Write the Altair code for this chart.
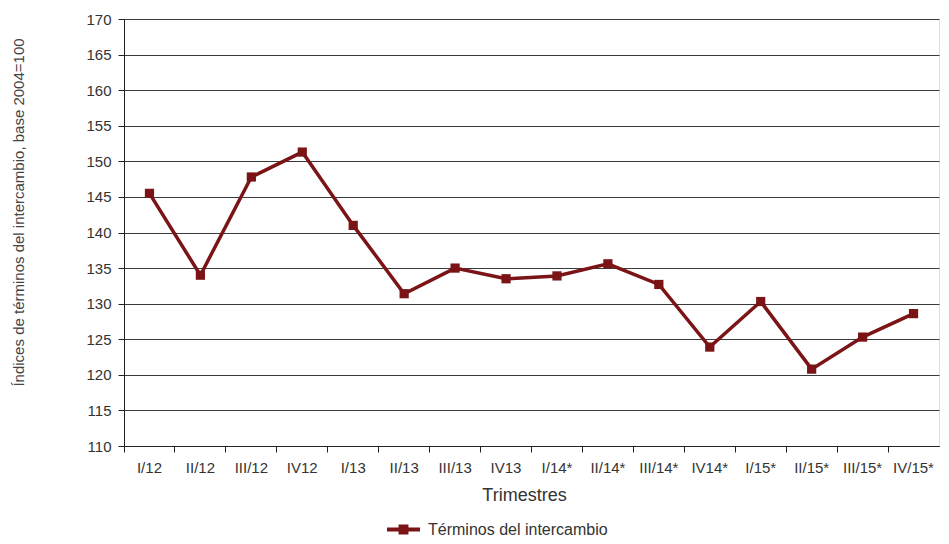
import altair as alt
import pandas as pd

trimestres = ["I/12", "II/12", "III/12", "IV12", "I/13", "II/13", "III/13", "IV13",
              "I/14*", "II/14*", "III/14*", "IV14*", "I/15*", "II/15*", "III/15*", "IV/15*"]
valores = [145.5, 134.0, 147.8, 151.3, 141.0, 131.4, 135.0, 133.5,
           133.9, 135.6, 132.7, 123.9, 130.3, 120.8, 125.3, 128.6]
serie = "Términos del intercambio"
y_ticks = list(range(110, 171, 5))

df = pd.DataFrame({"trimestre": trimestres, "valor": valores, "serie": [serie] * len(valores)})

COLOR = "#7B1416"
FONT = "Liberation Sans"

x_enc = alt.X(
    "trimestre:N",
    sort=trimestres,
    bandPosition=0.5,
    scale=alt.Scale(type="band", paddingInner=0, paddingOuter=0),
    axis=alt.Axis(
        title="Trimestres",
        bandPosition=0,
        labelAngle=0,
        grid=False,
        domainColor="#222222",
        tickColor="#222222",
        tickSize=6,
        labelPadding=8,
        labelFontSize=15,
        labelColor="#333333",
        labelFont=FONT,
        titleFont=FONT,
        titleFontSize=18,
        titleFontWeight="normal",
        titleColor="#333333",
        titlePadding=11,
        titleX=400,
        titleAlign="center",
    ),
)
y_enc = alt.Y(
    "valor:Q",
    scale=alt.Scale(domain=[110, 170], nice=False, zero=False),
    axis=alt.Axis(
        title="Índices de términos del intercambio, base 2004=100",
        values=y_ticks,
        grid=True,
        gridColor="#3a3a3a",
        gridWidth=1,
        domainColor="#222222",
        tickColor="#222222",
        tickSize=6,
        labelPadding=7,
        labelFontSize=15,
        labelColor="#333333",
        labelFont=FONT,
        titleFont=FONT,
        titleFontSize=15,
        titleFontWeight="normal",
        titleColor="#444444",
        titleX=-106,
        titleY=193,
        titleAlign="center",
        titleBaseline="middle",
        titleAngle=270,
    ),
)

color_scale = alt.Scale(domain=[serie], range=[COLOR])
legend = alt.Legend(
    title=None,
    orient="none",
    legendX=263,
    legendY=494,
    padding=0,
    symbolType="M-1,-0.12L1,-0.12L1,0.12L-1,0.12ZM-0.3,-0.3L0.3,-0.3L0.3,0.3L-0.3,0.3Z",
    symbolSize=1089,
    symbolStrokeWidth=0,
    symbolFillColor=COLOR,
    symbolOpacity=1,
    labelFontSize=16,
    labelFont=FONT,
    labelColor="#333333",
    labelOffset=8,
    labelLimit=400,
)

points = alt.Chart(df).mark_point(shape="square", filled=True, size=85, opacity=1).encode(
    x=x_enc,
    y=y_enc,
    color=alt.Color("serie:N", scale=color_scale, legend=legend),
)

line = alt.Chart(df).mark_line(strokeWidth=3.5).encode(
    x=x_enc,
    y=y_enc,
    color=alt.Color("serie:N", scale=color_scale, legend=legend),
)

chart = alt.layer(points, line).properties(
    width=815,
    height=427,
    padding={"left": 116, "top": 11, "right": 2, "bottom": 90},
    autosize=alt.AutoSizeParams(type="none"),
).configure_view(
    stroke="#9a9a9a",
    strokeWidth=1,
).configure(background="white")

chart.save("out.html", embed_options={"renderer": "svg", "actions": False})
